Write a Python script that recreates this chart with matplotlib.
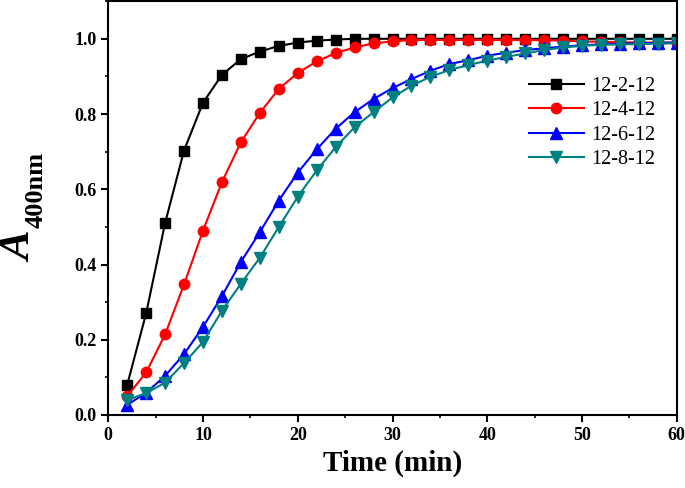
import matplotlib
matplotlib.use('Agg')
import matplotlib.pyplot as plt
from matplotlib.ticker import MultipleLocator

plt.rcParams['font.family'] = ['Liberation Serif', 'DejaVu Serif']

time = list(range(2, 61, 2))
labels = ['12-2-12', '12-4-12', '12-6-12', '12-8-12']
a_2 = [0.08, 0.27, 0.51, 0.703, 0.83, 0.904, 0.946, 0.966, 0.981, 0.990, 0.995, 0.998,
       1.0, 1.0, 1.0, 1.0, 1.0, 1.0, 1.0, 1.0, 1.0, 1.0, 1.0, 1.0, 1.0, 1.0, 1.0, 1.0, 1.0, 1.0]
a_4 = [0.05, 0.113, 0.214, 0.347, 0.49, 0.619, 0.725, 0.803, 0.867, 0.909, 0.94, 0.962,
       0.977, 0.988, 0.993, 0.997, 0.997, 0.997, 0.997, 0.997, 0.997, 0.997, 0.996, 0.995,
       0.993, 0.992, 0.991, 0.99, 0.99, 0.99]
a_6 = [0.027, 0.059, 0.104, 0.162, 0.234, 0.316, 0.407, 0.486, 0.57, 0.644, 0.706, 0.761,
       0.805, 0.84, 0.869, 0.893, 0.915, 0.933, 0.943, 0.955, 0.963, 0.97, 0.975, 0.979,
       0.983, 0.985, 0.987, 0.988, 0.989, 0.99]
a_8 = [0.04, 0.058, 0.086, 0.138, 0.194, 0.277, 0.349, 0.418, 0.5, 0.58, 0.65, 0.712,
       0.765, 0.805, 0.844, 0.875, 0.899, 0.917, 0.93, 0.942, 0.952, 0.961, 0.97, 0.977,
       0.981, 0.984, 0.985, 0.986, 0.987, 0.988]

series = [a_2, a_4, a_6, a_8]
colors = ['black', 'red', 'blue', '#008080']
markers = ['s', 'o', '^', 'v']
msizes = [7, 7.5, 8, 8]

fig = plt.figure(figsize=(6.85, 4.88), dpi=100)
ax = fig.add_axes([0.158, 0.1496, 0.83, 0.848])

for y, c, m, ms, lab in zip(series, colors, markers, msizes, labels):
    ax.plot(time, y, color=c, marker=m, markersize=ms, linewidth=1.5,
            markeredgecolor=c, markerfacecolor=c, label=lab)

ax.set_xlim(0, 60)
ax.set_ylim(0, 1.1)
ax.xaxis.set_major_locator(MultipleLocator(10))
ax.xaxis.set_minor_locator(MultipleLocator(5))
ax.set_yticks([0.0, 0.2, 0.4, 0.6, 0.8, 1.0])
ax.yaxis.set_minor_locator(MultipleLocator(0.1))
ax.tick_params(which='major', direction='out', length=5, width=1.5, labelsize=13)
ax.tick_params(which='minor', direction='out', length=2.5, width=1.2)
for lbl in ax.get_xticklabels() + ax.get_yticklabels():
    lbl.set_fontweight('bold')
for s in ax.spines.values():
    s.set_linewidth(1.5)

ax.set_xlabel('Time (min)', fontsize=21, fontweight='bold', labelpad=4)

# y label: big italic A with subscript
fig.text(20 / 685, 1 - 247 / 488, 'A', fontsize=32, fontweight='bold', fontstyle='italic',
         rotation=90, ha='center', va='center')
fig.text(36 / 685, 1 - 190 / 488, '400nm', fontsize=19, fontweight='bold',
         rotation=90, ha='center', va='center')

ax.legend(loc='upper right', bbox_to_anchor=(0.995, 0.86), frameon=False, fontsize=14.5,
          handlelength=2.7, labelspacing=0.25, handletextpad=0.4)

fig.savefig('out.png', dpi=100)
